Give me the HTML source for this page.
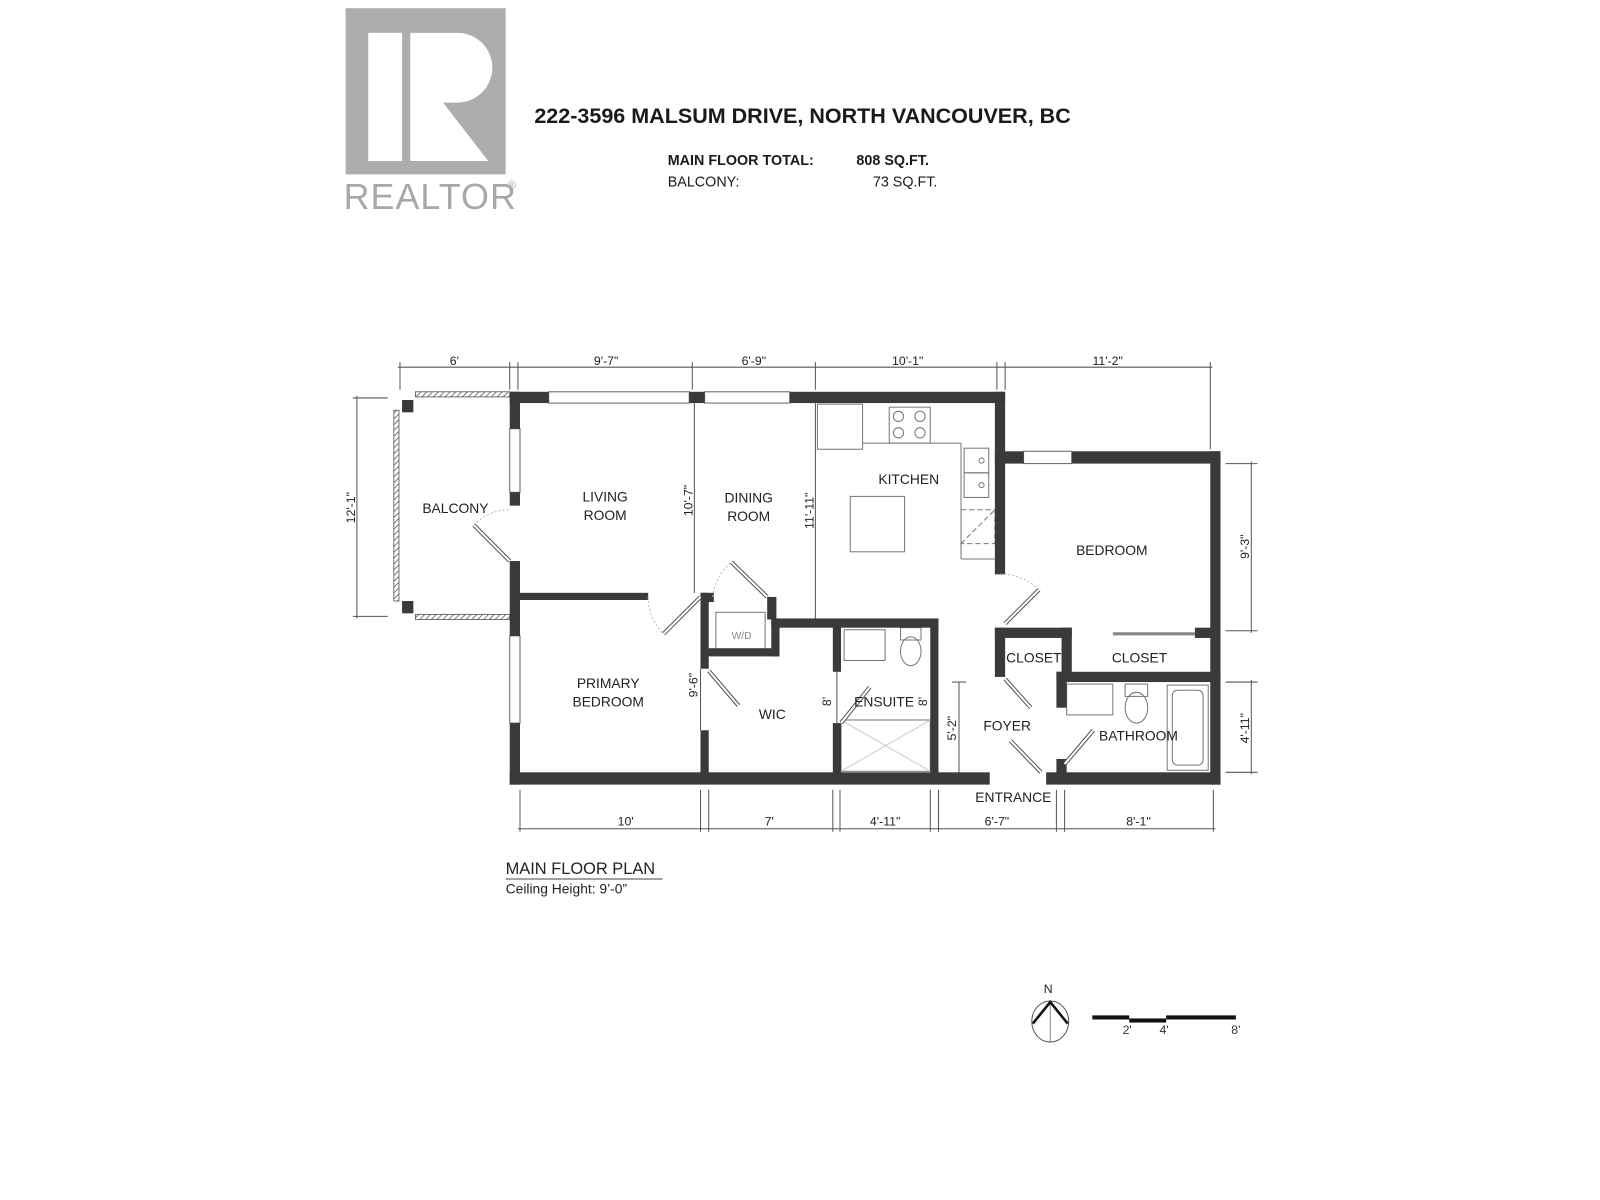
<!DOCTYPE html>
<html><head><meta charset="utf-8"><style>
html,body{margin:0;padding:0;background:#fff;}
svg{display:block;}
text{font-family:"Liberation Sans",sans-serif;fill:#222;}
.r{font-size:13.5px;}
.d{font-size:12px;fill:#333;}
</style></head><body>
<svg width="1600" height="1200" viewBox="0 0 1560 1170" xmlns="http://www.w3.org/2000/svg">
<defs>
<pattern id="h" width="4" height="4" patternUnits="userSpaceOnUse" patternTransform="rotate(45)">
<rect width="4" height="4" fill="#fff"/><line x1="0" y1="0" x2="0" y2="4" stroke="#555" stroke-width="1.5"/></pattern>
</defs>
<!-- logo -->
<rect x="337" y="8" width="156" height="162" fill="#adadad"/>
<rect x="359" y="32" width="33" height="125" fill="#fff"/>
<path d="M400 32 H446 A34 34 0 0 1 446 100 H432 L476 157 H400 Z" fill="#fff"/>
<text x="335" y="204" style="font-size:35px;fill:#a8a8a8;letter-spacing:1px">REALTOR</text>
<text x="495" y="184" style="font-size:11px;fill:#a8a8a8">®</text>
<text x="521" y="120" style="font-size:21px;font-weight:bold;fill:#1a1a1a">222-3596 MALSUM DRIVE, NORTH VANCOUVER, BC</text>
<text x="651" y="161" style="font-size:14px;font-weight:bold;fill:#1a1a1a">MAIN FLOOR TOTAL:</text>
<text x="835" y="161" style="font-size:14px;font-weight:bold;fill:#1a1a1a">808 SQ.FT.</text>
<text x="651" y="182" style="font-size:14px;fill:#1a1a1a">BALCONY:</text>
<text x="914" y="182" text-anchor="end" style="font-size:14px;fill:#1a1a1a">73 SQ.FT.</text>

<!-- dimension lines -->
<g stroke="#555" stroke-width="1" fill="none">
<line x1="388" y1="358" x2="1182" y2="358"/>
<g><line x1="390" y1="353" x2="390" y2="380"/><line x1="497" y1="353" x2="497" y2="380"/><line x1="505" y1="353" x2="505" y2="380"/><line x1="675" y1="353" x2="675" y2="380"/><line x1="795" y1="353" x2="795" y2="380"/><line x1="972" y1="353" x2="972" y2="380"/><line x1="980" y1="353" x2="980" y2="380"/><line x1="1180" y1="353" x2="1180" y2="438"/></g>
<line x1="348" y1="386" x2="348" y2="603"/>
<line x1="344" y1="388" x2="378" y2="388"/><line x1="344" y1="601" x2="378" y2="601"/>
<line x1="1220" y1="450" x2="1220" y2="617"/>
<line x1="1195" y1="452" x2="1226" y2="452"/><line x1="1195" y1="615" x2="1226" y2="615"/>
<line x1="1220" y1="663" x2="1220" y2="755"/>
<line x1="1195" y1="665" x2="1226" y2="665"/><line x1="1195" y1="753" x2="1226" y2="753"/>
<line x1="505" y1="808" x2="1185" y2="808"/>
<g><line x1="507" y1="770" x2="507" y2="811"/><line x1="683" y1="770" x2="683" y2="811"/><line x1="691" y1="770" x2="691" y2="811"/><line x1="812" y1="770" x2="812" y2="811"/><line x1="819" y1="770" x2="819" y2="811"/><line x1="907" y1="770" x2="907" y2="811"/><line x1="915" y1="770" x2="915" y2="811"/><line x1="1030" y1="770" x2="1030" y2="811"/><line x1="1038" y1="770" x2="1038" y2="811"/><line x1="1183" y1="770" x2="1183" y2="811"/></g>
<line x1="677" y1="393" x2="677" y2="578"/>
<line x1="795" y1="393" x2="795" y2="603"/>
<line x1="935" y1="665" x2="935" y2="755"/><line x1="928" y1="665" x2="942" y2="665"/>
<line x1="683" y1="652" x2="683" y2="712"/>
<line x1="816" y1="655" x2="816" y2="705"/>
</g>
<g class="d" text-anchor="middle">
<text x="443" y="356">6'</text><text x="591" y="356">9'-7"</text><text x="735" y="356">6'-9"</text><text x="885" y="356">10'-1"</text><text x="1080" y="356">11'-2"</text>
<text x="610" y="805">10'</text><text x="750" y="805">7'</text><text x="863" y="805">4'-11"</text><text x="972" y="805">6'-7"</text><text x="1110" y="805">8'-1"</text>
<text transform="translate(346,495) rotate(-90)">12'-1"</text>
<text transform="translate(1218,533) rotate(-90)">9'-3"</text>
<text transform="translate(1218,710) rotate(-90)">4'-11"</text>
<text transform="translate(675,488) rotate(-90)">10'-7"</text>
<text transform="translate(793,498) rotate(-90)">11'-11"</text>
<text transform="translate(680,668) rotate(-90)">9'-6"</text>
<text transform="translate(810,684) rotate(-90)">8'</text>
<text transform="translate(904,684) rotate(-90)">8'</text>
<text transform="translate(932,710) rotate(-90)">5'-2"</text>
</g>

<!-- balcony -->
<rect x="405" y="382" width="92" height="5" fill="url(#h)" stroke="#555" stroke-width="0.8"/>
<rect x="405" y="599" width="92" height="5" fill="url(#h)" stroke="#555" stroke-width="0.8"/>
<rect x="384" y="400" width="5" height="186" fill="url(#h)" stroke="#555" stroke-width="0.8"/>
<rect x="392" y="390" width="11" height="12" fill="#3a3a3a"/>
<rect x="392" y="586" width="11" height="12" fill="#3a3a3a"/>

<!-- kitchen fixtures -->
<g stroke="#777" stroke-width="1" fill="none">
<rect x="797" y="394" width="44" height="44"/>
<line x1="841" y1="432" x2="937" y2="432"/>
<line x1="937" y1="432" x2="937" y2="545"/><line x1="937" y1="545" x2="970" y2="545"/>
<rect x="867" y="397" width="40" height="35"/>
<circle cx="876" cy="406" r="5"/><circle cx="897" cy="406" r="5"/><circle cx="876" cy="422" r="5"/><circle cx="897" cy="422" r="5"/>
<rect x="940" y="437" width="24" height="24"/><rect x="940" y="461" width="24" height="24"/>
<circle cx="957" cy="449" r="2.5"/><circle cx="957" cy="473" r="2.5"/>
<rect x="829" y="484" width="53" height="54"/>
<rect x="937" y="497" width="33" height="33" stroke-dasharray="5 3"/>
<line x1="937" y1="530" x2="970" y2="497" stroke-dasharray="5 3"/>
<rect x="698" y="597" width="48" height="36"/>
<rect x="823" y="614" width="40" height="30"/><rect x="878" y="612" width="20" height="12"/><ellipse cx="888" cy="635" rx="10" ry="14"/>
<rect x="820" y="702" width="87" height="50"/><line x1="820" y1="702" x2="907" y2="752" stroke="#ccc"/><line x1="907" y1="702" x2="820" y2="752" stroke="#ccc"/>
<rect x="1040" y="667" width="45" height="30"/><rect x="1097" y="667" width="22" height="12"/><ellipse cx="1108" cy="690" rx="11" ry="15"/>
<rect x="1138" y="668" width="40" height="83"/><rect x="1143" y="673" width="30" height="73" rx="5"/>
<line x1="1085" y1="618" x2="1165" y2="618" stroke="#888" stroke-width="3"/>
</g>
<text x="723" y="623" style="font-size:10px;fill:#888" text-anchor="middle">W/D</text>

<!-- windows -->
<g fill="#fff" stroke="#666" stroke-width="1">
<rect x="535" y="382" width="137" height="11"/><rect x="687" y="382" width="83" height="11"/>
<rect x="497" y="418" width="10" height="62"/><rect x="497" y="620" width="10" height="85"/>
<rect x="998" y="440" width="47" height="12"/>
</g>

<!-- walls -->
<g fill="#3a3a3a">
<rect x="497" y="382" width="38" height="11"/><rect x="672" y="382" width="15" height="11"/><rect x="770" y="382" width="210" height="11"/>
<rect x="497" y="382" width="10" height="36"/><rect x="497" y="480" width="10" height="13"/>
<rect x="497" y="547" width="10" height="73"/><rect x="497" y="705" width="10" height="60"/>
<rect x="497" y="753" width="468" height="12"/><rect x="1020" y="753" width="170" height="12"/>
<rect x="970" y="382" width="10" height="178"/>
<rect x="970" y="440" width="28" height="12"/><rect x="1045" y="440" width="145" height="12"/>
<rect x="1180" y="440" width="10" height="325"/>
<rect x="507" y="578" width="125" height="7"/>
<rect x="683" y="578" width="13" height="9"/><rect x="683" y="578" width="8" height="74"/><rect x="683" y="712" width="8" height="45"/>
<rect x="683" y="632" width="77" height="8"/><rect x="748" y="582" width="9" height="22"/><rect x="752" y="603" width="8" height="37"/>
<rect x="752" y="603" width="163" height="9"/>
<rect x="907" y="603" width="8" height="155"/>
<rect x="812" y="603" width="8" height="52"/><rect x="812" y="705" width="8" height="50"/>
<rect x="970" y="612" width="10" height="48"/><rect x="970" y="612" width="75" height="10"/><rect x="1035" y="612" width="10" height="45"/>
<rect x="1165" y="612" width="20" height="10"/>
<rect x="1030" y="655" width="160" height="10"/><rect x="1030" y="655" width="10" height="35"/><rect x="1030" y="740" width="10" height="20"/>
</g>

<!-- doors -->
<g stroke="#555" stroke-width="1" fill="none">
<path d="M497 547 L462 512" stroke-width="4"/><path d="M497 547 L462 512" stroke="#fff" stroke-width="2"/>
<path d="M462 512 A48 48 0 0 1 497 497" stroke="#bbb" stroke-dasharray="2 2"/>
<path d="M683 582 L647 618" stroke-width="4"/><path d="M683 582 L647 618" stroke="#fff" stroke-width="2"/>
<path d="M632 582 A50 50 0 0 0 647 618" stroke="#bbb" stroke-dasharray="2 2"/>
<path d="M748 582 L713 548" stroke-width="4"/><path d="M748 582 L713 548" stroke="#fff" stroke-width="2"/>
<path d="M695 582 A50 50 0 0 1 713 548" stroke="#bbb" stroke-dasharray="2 2"/>
<path d="M691 654 L720 688" stroke-width="4"/><path d="M691 654 L720 688" stroke="#fff" stroke-width="2"/>
<path d="M820 705 L848 670" stroke-width="4"/><path d="M820 705 L848 670" stroke="#fff" stroke-width="2"/>
<path d="M980 608 L1013 575" stroke-width="4"/><path d="M980 608 L1013 575" stroke="#fff" stroke-width="2"/>
<path d="M975 560 A50 50 0 0 1 1013 575" stroke="#bbb" stroke-dasharray="2 2"/>
<path d="M980 662 L1005 690" stroke-width="4"/><path d="M980 662 L1005 690" stroke="#fff" stroke-width="2"/>
<path d="M1015 753 L985 722" stroke-width="4"/><path d="M1015 753 L985 722" stroke="#fff" stroke-width="2"/>
<path d="M1038 745 L1066 712" stroke-width="4"/><path d="M1038 745 L1066 712" stroke="#fff" stroke-width="2"/>
</g>

<!-- room labels -->
<g class="r" text-anchor="middle">
<text x="444" y="500">BALCONY</text>
<text x="590" y="489">LIVING</text><text x="590" y="507">ROOM</text>
<text x="730" y="490">DINING</text><text x="730" y="508">ROOM</text>
<text x="886" y="472">KITCHEN</text>
<text x="1084" y="541">BEDROOM</text>
<text x="593" y="671">PRIMARY</text><text x="593" y="689">BEDROOM</text>
<text x="753" y="701">WIC</text>
<text x="862" y="689">ENSUITE</text>
<text x="1008" y="646">CLOSET</text>
<text x="1111" y="646">CLOSET</text>
<text x="982" y="712">FOYER</text>
<text x="1110" y="722">BATHROOM</text>
<text x="988" y="782">ENTRANCE</text>
</g>

<text x="493" y="852" style="font-size:16px">MAIN FLOOR PLAN</text>
<line x1="493" y1="857" x2="646" y2="857" stroke="#444" stroke-width="1"/>
<text x="493" y="871" style="font-size:13.5px">Ceiling Height: 9’-0”</text>

<text x="1022" y="968" text-anchor="middle" style="font-size:12px">N</text>
<ellipse cx="1024" cy="996" rx="18" ry="20" fill="none" stroke="#555" stroke-width="1"/>
<line x1="1024" y1="976" x2="1024" y2="1016" stroke="#888" stroke-width="1"/>
<path d="M1007 998 L1024 977 L1041 998" fill="none" stroke="#111" stroke-width="2.5"/>
<rect x="1065" y="990" width="36" height="4" fill="#111"/>
<rect x="1101" y="993" width="36" height="4" fill="#111"/>
<rect x="1137" y="990" width="68" height="4" fill="#111"/>
<text x="1099" y="1008" text-anchor="middle" class="d">2'</text>
<text x="1135" y="1008" text-anchor="middle" class="d">4'</text>
<text x="1205" y="1008" text-anchor="middle" class="d">8'</text>
</svg>
</body></html>
